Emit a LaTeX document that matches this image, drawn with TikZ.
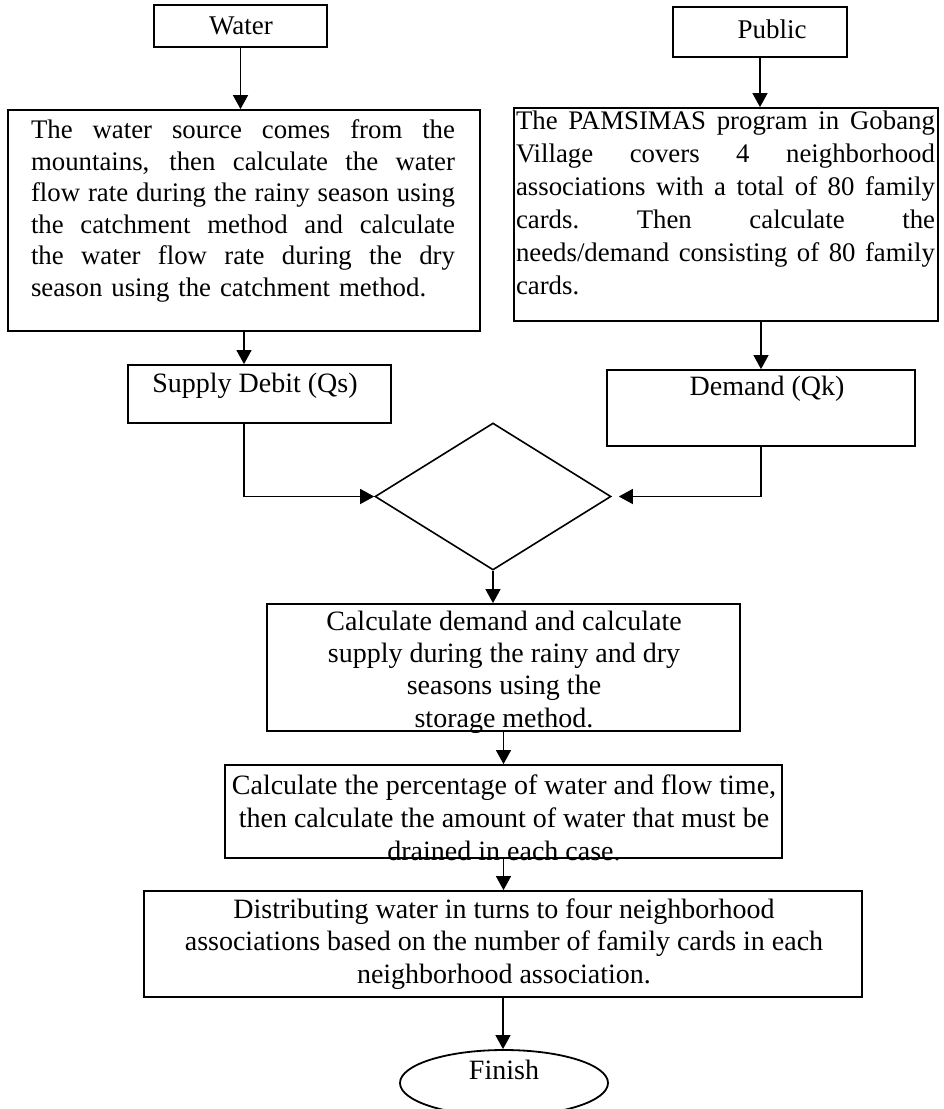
\documentclass[tikz,border=0pt]{standalone}
\usepackage{fontspec}
\setmainfont{Liberation Serif}
\usetikzlibrary{shapes.geometric,arrows.meta}
\newcommand\jline[2]{\leavevmode\hbox to #1{\spaceskip=0.25em plus 1fil minus 0.08em\relax\xspaceskip=\spaceskip #2}}
\begin{document}
\begin{tikzpicture}[x=1pt,y=-1pt,
  box/.style={draw, line width=1.8pt, inner sep=0pt},
  txt/.style={inner sep=0pt, font=\fontsize{28}{32.5}\selectfont, align=center},
  arr/.style={line width=1.3pt, -{Triangle[width=15pt,length=14pt]}}]
\useasboundingbox (0,0) rectangle (944,1109);
% boxes
\node[box, minimum width=173pt, minimum height=42pt] (water) at (240.5,26) {};
\node[txt, font=\fontsize{27}{32}\selectfont] (waterT) at (241,26) {Water};
\node[box, minimum width=174pt, minimum height=50pt] (public) at (760,32) {};
\node[txt, font=\fontsize{27}{32}\selectfont] (publicT) at (772,29) {Public};
\node[box, minimum width=472pt, minimum height=221pt] (src) at (244,220.5) {};
\node[txt, align=left, text width=424pt, font=\fontsize{26.8}{31.6}\selectfont] (srcT) at (243,211) {%
\jline{424pt}{The water source comes from the}\\
\jline{424pt}{mountains, then calculate the water}\\
\jline{424pt}{flow rate during the rainy season using}\\
\jline{424pt}{the catchment method and calculate}\\
\jline{424pt}{the water flow rate during the dry}\\
season using the catchment method.};
\node[box, minimum width=424pt, minimum height=213pt] (pam) at (726,214.5) {};
\node[txt, align=left, text width=419pt, font=\fontsize{26.8}{33}\selectfont] (pamT) at (725.5,202.5) {%
\jline{419pt}{The PAMSIMAS program in Gobang}\\
\jline{419pt}{Village covers 4 neighborhood}\\
\jline{419pt}{associations with a total of 80 family}\\
\jline{419pt}{cards. Then calculate the}\\
\jline{419pt}{needs/demand consisting of 80 family}\\
cards.};
\node[box, minimum width=263pt, minimum height=58pt] (supply) at (259.5,394) {};
\node[txt] (supplyT) at (255,386) {Supply Debit (Qs)};
\node[box, minimum width=308pt, minimum height=76pt] (demand) at (761,408) {};
\node[txt] (demandT) at (767,389) {Demand (Qk)};
\node[draw, diamond, line width=1.6pt, inner sep=0pt, minimum width=236pt, minimum height=147pt] (dia) at (493,496.5) {};
\node[box, minimum width=473pt, minimum height=127pt] (calc) at (503.5,667.5) {};
\node[txt, font=\fontsize{28}{32.3}\selectfont] (calcT) at (504,672) {Calculate demand and calculate\\supply during the rainy and dry\\seasons using the\\storage method.};
\node[box, minimum width=557pt, minimum height=93pt] (perc) at (503.5,811.5) {};
\node[txt, font=\fontsize{28}{33}\selectfont] (percT) at (504,818) {Calculate the percentage of water and flow time,\\then calculate the amount of water that must be\\drained in each case.};
\node[box, minimum width=718pt, minimum height=106pt] (dist) at (503,944) {};
\node[txt] (distT) at (504,944) {Distributing water in turns to four neighborhood\\associations based on the number of family cards in each\\neighborhood association.};
\node[draw, ellipse, line width=1.8pt, inner sep=0pt, minimum width=208pt, minimum height=66pt] (finish) at (504,1083) {};
\node[txt] (finishT) at (504,1070) {Finish};
% connectors
\draw[arr] (water.south) -- (water.south |- src.north);
\draw[arr] (public.south) -- (public.south |- pam.north);
\draw[arr] (src.south) -- (src.south |- supply.north);
\draw[arr] (pam.south -| demand.north) -- (demand.north);
\draw[arr] (src.south |- supply.south) |- (dia.west);
\draw[arr, shorten >=7pt] (demand.south) |- (dia.east);
\draw[arr] (dia.south) -- (dia.south |- calc.north);
\draw[arr] (calc.south) -- (perc.north);
\draw[arr] (perc.south) -- (perc.south |- dist.north);
\draw[arr] (dist.south) -- (dist.south |- finish.north);
\end{tikzpicture}
\end{document}
